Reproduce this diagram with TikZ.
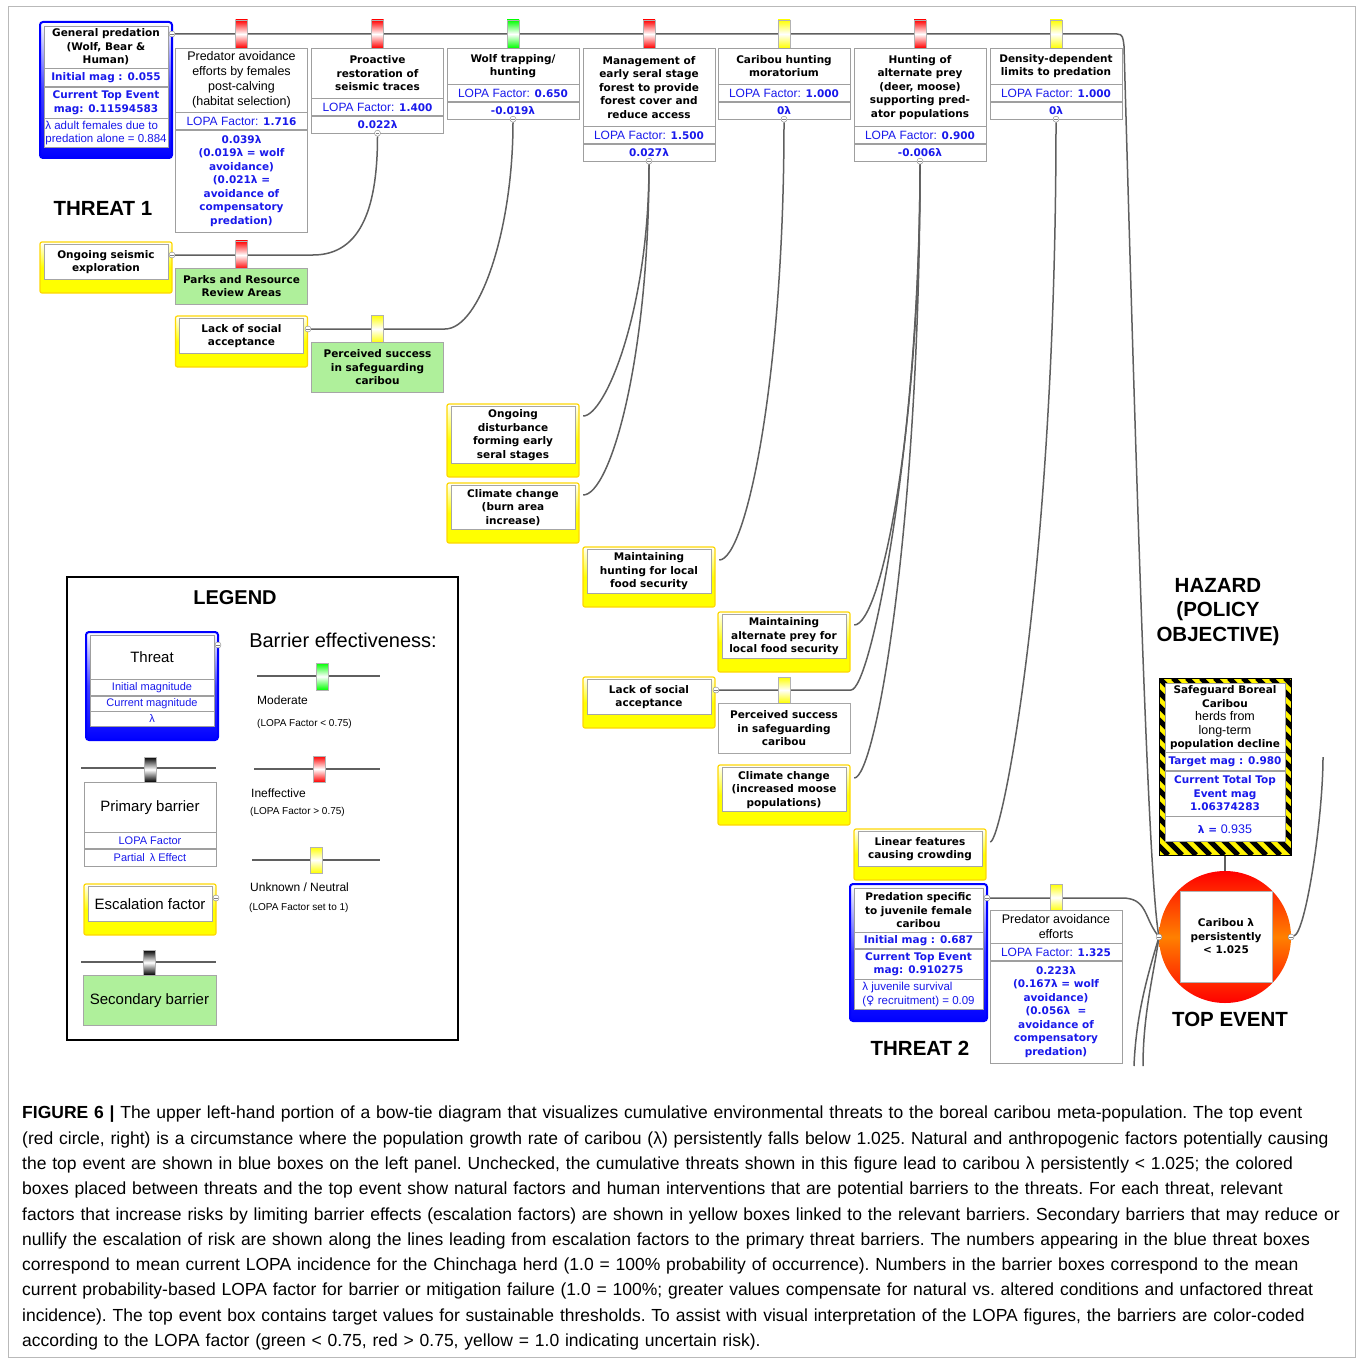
\documentclass[tikz,border=0pt]{standalone}
\usepackage{fontspec}
\setmainfont{Liberation Sans}
\newfontfamily\verd{DejaVu Sans}
\usepackage{xcolor}
\usepackage{tikz}
\usetikzlibrary{positioning}
\pgfdeclarelayer{bg}
\pgfsetlayers{bg,main}

\definecolor{lopa}{RGB}{25,25,235}
\definecolor{lnkgray}{RGB}{95,95,95}
\definecolor{secgreen}{RGB}{175,240,155}

\newcommand\bxf{\verd\bfseries\fontsize{10.5}{13.5}\selectfont}
\newcommand\rgf{\normalfont\fontsize{12.5}{15}\selectfont}
\newcommand\smf{\normalfont\fontsize{11.5}{13.5}\selectfont}
\newcommand\lfac{{\normalfont\fontsize{12}{13.5}\selectfont LOPA Factor:} }

\tikzset{
	lnk/.style={draw=lnkgray, line width=1.5pt},
	row/.style={draw=gray!75, fill=white, minimum width=132pt, inner sep=1pt, anchor=north, align=center, font=\bxf},
	gate/.style={draw=gray!60, minimum width=12pt, minimum height=28pt, inner sep=0pt, top color=#1, bottom color=#1, middle color=white},
	cn/.style={circle, draw=gray, fill=white, inner sep=0pt, minimum size=6pt,
		path picture={\draw[gray] ([xshift=-1.8pt]path picture bounding box.center) -- ([xshift=1.8pt]path picture bounding box.center);}},
	threatbox/.style={draw=blue, line width=2pt, rounded corners=3pt, top color=white, bottom color=blue, middle color=blue!75, minimum width=132pt},
	escbox/.style={draw=yellow!75!orange, line width=1.2pt, rounded corners=2pt, top color=white, bottom color=yellow, middle color=yellow, minimum width=132pt},
	escin/.style={draw=gray!70, fill=white, minimum width=124pt, inner sep=1pt, anchor=north, align=center, font=\bxf},
	secbox/.style={draw=gray!70, fill=secgreen, minimum width=132pt, inner sep=1pt, anchor=north, align=center, font=\bxf},
	big/.style={font=\normalfont\bfseries\fontsize{20.5}{24.5}\selectfont, align=center},
	lgdf/.style={font=\normalfont\fontsize{#1}{#1}\selectfont}
}

\begin{document}
\begin{tikzpicture}[x=1pt, y=-1pt]
	\useasboundingbox (0,0) rectangle (1360,1359);
	\draw[gray!55] (8,6) rectangle (1355,1357);

	% threat 1
	\node[threatbox, minimum height=136pt] (t1) at (106,90) {};
	\node[row, minimum width=124pt, minimum height=42pt] (t1t) at (106,26) {General predation\\(Wolf, Bear \&\\Human)};
	\node[row, minimum width=124pt, minimum height=18pt, below=0pt of t1t, text=lopa] (t1i) {Initial mag : 0.055};
	\node[row, minimum width=124pt, minimum height=31pt, below=0pt of t1i, text=lopa] (t1m) {Current Top Event\\mag: 0.11594583};
	\node[row, minimum width=124pt, minimum height=29pt, below=0pt of t1m, text=lopa, font=\smf, align=left] (t1l) {λ adult females due to\\predation alone = 0.884};
	\node[cn] (t1c) at (172,34) {};
	\node[big] (th1) at (103,208) {THREAT 1};

	% primary barriers, threat 1
	\node[gate=red] (g1) at (241.5,34) {};
	\node[gate=red] (g2) at (377.5,34) {};
	\node[gate=green] (g3) at (513,34) {};
	\node[gate=red] (g4) at (649,34) {};
	\node[gate=yellow] (g5) at (784,34) {};
	\node[gate=red] (g6) at (920,34) {};
	\node[gate=yellow] (g7) at (1056,34) {};

	\node[row, minimum height=64pt, font=\rgf] (b1t) at (241.5,48) {Predator avoidance\\efforts by females\\post-calving\\(habitat selection)};
	\node[row, minimum height=17pt, below=0pt of b1t, text=lopa] (b1l) {\lfac 1.716};
	\node[row, minimum height=102pt, below=0pt of b1l, text=lopa] (b1e) {0.039λ\\(0.019λ = wolf\\avoidance)\\(0.021λ =\\avoidance of\\compensatory\\predation)};

	\node[row, minimum height=50pt] (b2t) at (377.5,48) {Proactive\\restoration of\\seismic traces};
	\node[row, minimum height=17pt, below=0pt of b2t, text=lopa] (b2l) {\lfac 1.400};
	\node[row, minimum height=17pt, below=0pt of b2l, text=lopa] (b2e) {0.022λ};
	\node[cn] (b2c) at (b2e.south) {};

	\node[row, minimum height=36pt] (b3t) at (513,48) {Wolf trapping/\\hunting};
	\node[row, minimum height=17pt, below=0pt of b3t, text=lopa] (b3l) {\lfac 0.650};
	\node[row, minimum height=17pt, below=0pt of b3l, text=lopa] (b3e) {-0.019λ};
	\node[cn] (b3c) at (b3e.south) {};

	\node[row, minimum height=78pt] (b4t) at (649,48) {Management of\\early seral stage\\forest to provide\\forest cover and\\reduce access};
	\node[row, minimum height=17pt, below=0pt of b4t, text=lopa] (b4l) {\lfac 1.500};
	\node[row, minimum height=17pt, below=0pt of b4l, text=lopa] (b4e) {0.027λ};
	\node[cn] (b4c) at (b4e.south) {};

	\node[row, minimum height=36pt] (b5t) at (784,48) {Caribou hunting\\moratorium};
	\node[row, minimum height=17pt, below=0pt of b5t, text=lopa] (b5l) {\lfac 1.000};
	\node[row, minimum height=17pt, below=0pt of b5l, text=lopa] (b5e) {0λ};
	\node[cn] (b5c) at (b5e.south) {};

	\node[row, minimum height=78pt] (b6t) at (920,48) {Hunting of\\alternate prey\\(deer, moose)\\supporting pred-\\ator populations};
	\node[row, minimum height=17pt, below=0pt of b6t, text=lopa] (b6l) {\lfac 0.900};
	\node[row, minimum height=17pt, below=0pt of b6l, text=lopa] (b6e) {-0.006λ};
	\node[cn] (b6c) at (b6e.south) {};

	\node[row, minimum height=36pt] (b7t) at (1056,48) {Density-dependent\\limits to predation};
	\node[row, minimum height=17pt, below=0pt of b7t, text=lopa] (b7l) {\lfac 1.000};
	\node[row, minimum height=17pt, below=0pt of b7l, text=lopa] (b7e) {0λ};
	\node[cn] (b7c) at (b7e.south) {};

	% escalation factors
	\node[escbox, minimum height=51pt] (e1) at (106,267.5) {};
	\node[escin, minimum height=35pt, below=3pt of e1.north] (e1t) {Ongoing seismic\\exploration};
	\node[cn] (e1c) at (172,255) {};

	\node[escbox, minimum height=51pt] (e2) at (241.5,341.5) {};
	\node[escin, minimum height=35pt, below=3pt of e2.north] (e2t) {Lack of social\\acceptance};
	\node[cn] (e2c) at (308,329) {};

	\node[escbox, minimum height=73pt] (e3) at (513,440.5) {};
	\node[escin, minimum height=57pt, below=3pt of e3.north] (e3t) {Ongoing\\disturbance\\forming early\\seral stages};
	\node[cn, draw=none, fill=none, path picture={}] (e3c) at (580,416) {};

	\node[escbox, minimum height=60pt] (e4) at (513,513) {};
	\node[escin, minimum height=44pt, below=3pt of e4.north] (e4t) {Climate change\\(burn area\\increase)};
	\node[cn, draw=none, fill=none, path picture={}] (e4c) at (580,495) {};

	\node[escbox, minimum height=60pt] (e5) at (649,577) {};
	\node[escin, minimum height=44pt, below=3pt of e5.north] (e5t) {Maintaining\\hunting for local\\food security};
	\node[cn, draw=none, fill=none, path picture={}] (e5c) at (716,560) {};

	\node[escbox, minimum height=60pt] (e6) at (784,642) {};
	\node[escin, minimum height=44pt, below=3pt of e6.north] (e6t) {Maintaining\\alternate prey for\\local food security};
	\node[cn, draw=none, fill=none, path picture={}] (e6c) at (851,625) {};

	\node[escbox, minimum height=51pt] (e7) at (649,702.5) {};
	\node[escin, minimum height=35pt, below=3pt of e7.north] (e7t) {Lack of social\\acceptance};
	\node[cn] (e7c) at (716,690) {};

	\node[escbox, minimum height=60pt] (e8) at (784,795) {};
	\node[escin, minimum height=44pt, below=3pt of e8.north] (e8t) {Climate change\\(increased moose\\populations)};
	\node[cn, draw=none, fill=none, path picture={}] (e8c) at (851,778) {};

	\node[escbox, minimum height=51pt] (e9) at (920,854.5) {};
	\node[escin, minimum height=35pt, below=3pt of e9.north] (e9t) {Linear features\\causing crowding};
	\node[cn, draw=none, fill=none, path picture={}] (e9c) at (987,842) {};

	% secondary barriers
	\node[gate=red] (g9) at (241.5,255) {};
	\node[secbox, minimum height=36pt] (s1) at (241.5,268) {Parks and Resource\\Review Areas};
	\node[gate=yellow] (g10) at (377.5,329) {};
	\node[secbox, minimum height=50pt] (s2) at (377.5,342) {Perceived success\\in safeguarding\\caribou};
	\node[gate=yellow, minimum height=26pt] (g11) at (784,690) {};
	\node[secbox, fill=white, minimum height=50pt] (s3) at (784,703) {Perceived success\\in safeguarding\\caribou};

	% threat 2
	\node[threatbox, minimum width=137pt, minimum height=137pt] (t2) at (918.5,952.5) {};
	\node[row, minimum width=129pt, minimum height=44pt] (t2t) at (918.5,888) {Predation specific\\to juvenile female\\caribou};
	\node[row, minimum width=129pt, minimum height=16pt, below=0pt of t2t, text=lopa] (t2i) {Initial mag : 0.687};
	\node[row, minimum width=129pt, minimum height=30pt, below=0pt of t2i, text=lopa] (t2m) {Current Top Event\\mag: 0.910275};
	\node[row, minimum width=129pt, minimum height=30pt, below=0pt of t2m, text=lopa, font=\smf, align=left] (t2l) {λ juvenile survival\\({\verd ♀} recruitment) = 0.09};
	\node[cn] (t2c) at (987,898) {};
	\node[big] (th2) at (920,1048) {THREAT 2};

	\node[gate=yellow, minimum height=27pt] (g8) at (1056,897.5) {};
	\node[row, minimum height=33pt, font=\rgf] (b8t) at (1056,910) {Predator avoidance\\efforts};
	\node[row, minimum height=17pt, below=0pt of b8t, text=lopa] (b8l) {\lfac 1.325};
	\node[row, minimum height=102pt, below=0pt of b8l, text=lopa] (b8e) {0.223λ\\(0.167λ = wolf\\avoidance)\\(0.056λ\ \ =\\avoidance of\\compensatory\\predation)};

	% hazard and top event
	\node[big] (hzlab) at (1218,612) {HAZARD\\(POLICY\\OBJECTIVE)};
	\node[draw, fill=yellow, minimum width=132pt, minimum height=177pt, inner sep=0pt,
		path picture={\foreach \s in {-196,-182,...,140}
			\draw[line width=5pt] ([xshift=\s pt]path picture bounding box.north west) -- ++(177pt,-177pt);}] (hz) at (1225,766.5) {};
	\node[row, minimum width=120pt, minimum height=69pt] (hzt) at (1225,683) {Safeguard Boreal\\Caribou\\{\rgf herds from}\\{\rgf long-term}\\population decline};
	\node[row, minimum width=120pt, minimum height=18pt, below=0pt of hzt, text=lopa] (hzg) {Target mag : 0.980};
	\node[row, minimum width=120pt, minimum height=45pt, below=0pt of hzg, text=lopa] (hzm) {Current Total Top\\Event mag\\1.06374283};
	\node[row, minimum width=120pt, minimum height=25pt, below=0pt of hzm, text=lopa] (hzl) {λ = {\rgf 0.935}};

	\node[circle, minimum size=132pt, top color=red, bottom color=red, middle color=orange] (te) at (1225,937) {};
	\node[draw=gray!60, fill=white, minimum width=92pt, minimum height=91pt, align=center, font=\bxf] (tet) at (1226,936.5) {Caribou λ\\persistently\\< 1.025};
	\node[cn] (tel) at (1159,937) {};
	\node[cn] (ter) at (1291,937) {};
	\node[big] (telab) at (1230,1019) {TOP EVENT};

	% legend
	\node[draw, line width=1.5pt, minimum width=391pt, minimum height=463pt] (lg) at (262.5,808.5) {};
	\node[font=\normalfont\bfseries\fontsize{20}{24}\selectfont] (lgt) at (235,598) {LEGEND};
	\node[lgdf=20] (lbe) at (343,640) {Barrier effectiveness:};

	\node[threatbox, minimum height=108pt] (lt) at (152,686) {};
	\node[row, minimum width=124pt, minimum height=44pt, lgdf=15] (ltt) at (152,635) {Threat};
	\node[row, minimum width=124pt, minimum height=16pt, below=0pt of ltt, text=lopa, lgdf=11] (lti) {Initial magnitude};
	\node[row, minimum width=124pt, minimum height=15pt, below=0pt of lti, text=lopa, lgdf=11] (ltm) {Current magnitude};
	\node[row, minimum width=124pt, minimum height=15pt, below=0pt of ltm, text=lopa, lgdf=11] (ltl) {λ};
	\node[cn] (ltc) at (218,645) {};

	\coordinate (la1) at (81,768);
	\coordinate (la2) at (216,768);
	\node[gate=black, minimum height=25pt] (lga) at (150,769.5) {};
	\node[row, minimum height=50pt, lgdf=15] (lpt) at (150,782) {Primary barrier};
	\node[row, minimum height=16pt, below=0pt of lpt, text=lopa, lgdf=11] (lpl) {LOPA Factor};
	\node[row, minimum height=17pt, below=0pt of lpl, text=lopa, lgdf=11] (lpe) {Partial\ \,λ Effect};

	\node[escbox, minimum height=51pt] (le) at (150,909.5) {};
	\node[escin, minimum height=35pt, below=3pt of le.north, lgdf=15] (let) {Escalation factor};
	\node[cn] (lec) at (216,898) {};

	\coordinate (lb1) at (81,962);
	\coordinate (lb2) at (216,962);
	\node[gate=black, minimum height=25pt] (lgb) at (149,962.5) {};
	\node[secbox, minimum width=133pt, minimum height=50pt, lgdf=15] (ls) at (149.5,975) {Secondary barrier};

	\coordinate (lm1) at (257,676);
	\coordinate (lm2) at (380,676);
	\node[gate=green, minimum height=27pt] (lgm) at (322,676.5) {};
	\node[anchor=west, inner sep=0pt, lgdf=12] (lmt) at (257,700) {Moderate};
	\node[anchor=west, inner sep=0pt, lgdf=10] (lmf) at (257,724) {(LOPA Factor < 0.75)};

	\coordinate (li1) at (254,769);
	\coordinate (li2) at (380,769);
	\node[gate=red, minimum height=26pt] (lgi) at (319,769) {};
	\node[anchor=west, inner sep=0pt, lgdf=12] (lit) at (251,793) {Ineffective};
	\node[anchor=west, inner sep=0pt, lgdf=10] (lif) at (250,812) {(LOPA Factor > 0.75)};

	\coordinate (lu1) at (252,860);
	\coordinate (lu2) at (380,860);
	\node[gate=yellow, minimum height=26pt] (lgu) at (316,860) {};
	\node[anchor=west, inner sep=0pt, lgdf=12] (lut) at (250,887) {Unknown / Neutral};
	\node[anchor=west, inner sep=0pt, lgdf=10] (luf) at (249,908) {(LOPA Factor set to 1)};

	% caption
	\node[anchor=north west, text width=1335pt, align=left, inner sep=0pt, font=\normalfont\fontsize{17.5}{25.3}\selectfont\frenchspacing] (cap) at (22,1106) {%
		\textbf{FIGURE 6 |} The upper left-hand portion of a bow-tie diagram that visualizes cumulative environmental threats to the boreal caribou meta-population. The top event\\
		(red circle, right) is a circumstance where the population growth rate of caribou (λ) persistently falls below 1.025. Natural and anthropogenic factors potentially causing\\
		the top event are shown in blue boxes on the left panel. Unchecked, the cumulative threats shown in this figure lead to caribou λ persistently < 1.025; the colored\\
		boxes placed between threats and the top event show natural factors and human interventions that are potential barriers to the threats. For each threat, relevant\\
		factors that increase risks by limiting barrier effects (escalation factors) are shown in yellow boxes linked to the relevant barriers. Secondary barriers that may reduce or\\
		nullify the escalation of risk are shown along the lines leading from escalation factors to the primary threat barriers. The numbers appearing in the blue threat boxes\\
		correspond to mean current LOPA incidence for the Chinchaga herd (1.0 = 100\% probability of occurrence). Numbers in the barrier boxes correspond to the mean\\
		current probability-based LOPA factor for barrier or mitigation failure (1.0 = 100\%; greater values compensate for natural vs. altered conditions and unfactored threat\\
		incidence). The top event box contains target values for sustainable thresholds. To assist with visual interpretation of the LOPA figures, the barriers are color-coded\\
		according to the LOPA factor (green < 0.75, red > 0.75, yellow = 1.0 indicating uncertain risk).};

	% bend points of the threat lines
	\coordinate (k1) at (1117,34);
	\coordinate (k1b) at (1124,46);
	\coordinate (k2) at (1122,898);
	\coordinate (k3) at (1134,1066);
	\coordinate (k4) at (1143,1066);
	\coordinate (k5) at (1323,757);

	\begin{pgfonlayer}{bg}
		\draw[lnk] (t1c) -- (k1) .. controls +(6,0) and +(-1,-8) .. (k1b) .. controls +(14,500) and +(-10,-60) .. (tel);
		\draw[lnk] (t2c) -- (k2) .. controls +(25,0) and +(-15,-20) .. (tel);
		\draw[lnk] (tel) .. controls +(-12,40) and +(2,-50) .. (k3);
		\draw[lnk] (tel) .. controls +(-6,40) and +(0,-50) .. (k4);
		\draw[lnk] (ter) .. controls +(15,-5) and +(0,60) .. (k5);
		\draw[lnk] (hz.south) -- (te.north);

		\draw[lnk] (e1c) -- ++(141,0) .. controls +(50,0) and +(0,70) .. (b2c);
		\draw[lnk] (e2c) -- ++(137,0) .. controls +(35,0) and +(0,110) .. (b3c);
		\draw[lnk] (e3c) .. controls +(25,0) and +(0,150) .. (b4c);
		\draw[lnk] (e4c) .. controls +(30,0) and +(0,200) .. (b4c);
		\draw[lnk] (e5c) .. controls +(30,0) and +(0,260) .. (b5c);
		\draw[lnk] (e6c) .. controls +(30,0) and +(0,270) .. (b6c);
		\draw[lnk] (e7c) -- ++(135,0) .. controls +(20,0) and +(0,280) .. (b6c);
		\draw[lnk] (e8c) .. controls +(25,0) and +(0,360) .. (b6c);
		\draw[lnk] (e9c) .. controls +(15,0) and +(0,450) .. (b7c);

		\draw[lnk] (la1) -- (la2);
		\draw[lnk] (lb1) -- (lb2);
		\draw[lnk] (lm1) -- (lm2);
		\draw[lnk] (li1) -- (li2);
		\draw[lnk] (lu1) -- (lu2);
	\end{pgfonlayer}

\end{tikzpicture}
\end{document}
